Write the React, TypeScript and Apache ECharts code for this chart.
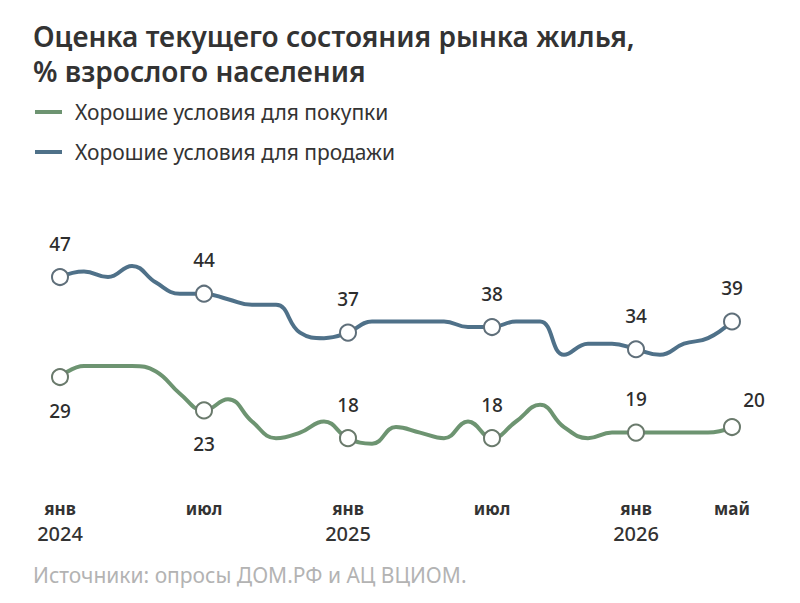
import React, { useEffect, useRef } from "react";
import * as echarts from "echarts";

// Monthly survey readings, Jan 2024 – May 2026
const months = [
  "2024-01", "2024-02", "2024-03", "2024-04", "2024-05", "2024-06",
  "2024-07", "2024-08", "2024-09", "2024-10", "2024-11", "2024-12",
  "2025-01", "2025-02", "2025-03", "2025-04", "2025-05", "2025-06",
  "2025-07", "2025-08", "2025-09", "2025-10", "2025-11", "2025-12",
  "2026-01", "2026-02", "2026-03", "2026-04", "2026-05",
];

const buyValues = [
  29, 31, 31, 31, 30, 26,
  23, 25, 21, 18, 19, 21,
  18, 17, 20, 19, 18, 21,
  18, 21, 24, 20, 18, 19,
  19, 19, 19, 19, 20,
];

const sellValues = [
  47, 48, 47, 49, 46, 44,
  44, 43, 42, 42, 37, 36,
  37, 39, 39, 39, 39, 38,
  38, 39, 39, 33, 35, 35,
  34, 33, 35, 36, 39,
];

// Axis tick labels shown under selected months
const tickLabels: Record<number, [string, string]> = {
  0: ["янв", "2024"],
  6: ["июл", ""],
  12: ["янв", "2025"],
  18: ["июл", ""],
  24: ["янв", "2026"],
  28: ["май", ""],
};

const markedIdx = [0, 6, 12, 18, 24, 28];
const buyBelowIdx = [0, 6];

const BUY_NAME = "Хорошие условия для покупки";
const SELL_NAME = "Хорошие условия для продажи";

const GREEN = "#6d9471";
const BLUE = "#4f7189";
const FONT = "'Noto Sans', sans-serif";

function buildData(values: number[], below: number[], shifted: number[]) {
  return values.map((v, i) => {
    if (!markedIdx.includes(i)) {
      return { value: v, symbol: "none" };
    }
    return {
      value: v,
      symbol: "circle",
      label: {
        show: true,
        position: below.includes(i) ? "bottom" : "top",
        distance: 15,
        offset: shifted.includes(i) ? [22, 6] : [0, 0],
      },
    };
  });
}

export default function App() {
  const ref = useRef<HTMLDivElement>(null);

  useEffect(() => {
    if (!ref.current) return;
    const chart = echarts.init(ref.current, undefined, { renderer: "svg" });

    const labelStyle = {
      color: "#2d2d2d",
      fontSize: 19,
      fontWeight: 500,
      fontFamily: FONT,
    };

    chart.setOption({
      animation: false,
      backgroundColor: "#ffffff",
      title: {
        text: "Оценка текущего состояния рынка жилья,\n% взрослого населения",
        left: 33,
        top: 18,
        padding: 0,
        textStyle: {
          color: "#333333",
          fontSize: 28,
          fontWeight: 600,
          lineHeight: 35,
          fontFamily: FONT,
        },
      },
      legend: {
        orient: "vertical",
        left: 35,
        top: 100,
        padding: 0,
        itemGap: 16,
        itemWidth: 27,
        itemHeight: 4,
        icon: "rect",
        textStyle: {
          color: "#333333",
          fontSize: 21,
          lineHeight: 24,
          fontFamily: FONT,
          padding: [0, 0, 0, 8],
        },
        data: [
          { name: BUY_NAME, itemStyle: { color: GREEN, borderWidth: 0 } },
          { name: SELL_NAME, itemStyle: { color: BLUE, borderWidth: 0 } },
        ],
      },
      graphic: [
        {
          type: "text",
          left: 33,
          top: 564,
          style: {
            text: "Источники: опросы ДОМ.РФ и АЦ ВЦИОМ.",
            fill: "#b3b3b3",
            fontSize: 21,
            fontFamily: FONT,
          },
        },
      ],
      grid: { left: 60, right: 68, top: 232.6, bottom: 120.4 },
      xAxis: {
        type: "category",
        data: months,
        boundaryGap: false,
        axisLine: { show: false },
        axisTick: { show: false },
        splitLine: { show: false },
        axisLabel: {
          interval: (idx: number) => tickLabels[idx] !== undefined,
          margin: 14,
          formatter: (_v: string, idx: number) => {
            const t = tickLabels[idx];
            if (!t) return "";
            return t[1] ? `{m|${t[0]}}\n{y|${t[1]}}` : `{m|${t[0]}}`;
          },
          rich: {
            m: { fontSize: 17, fontWeight: 700, color: "#333333", fontFamily: FONT, lineHeight: 24 },
            y: { fontSize: 20, fontWeight: 500, color: "#333333", fontFamily: FONT, lineHeight: 26 },
          },
          verticalAlign: "top",
        },
      },
      yAxis: {
        type: "value",
        min: 10,
        max: 55,
        show: false,
        splitLine: { show: false },
      },
      series: [
        {
          name: BUY_NAME,
          type: "line",
          smooth: 0.45,
          data: buildData(buyValues, buyBelowIdx, [28]),
          symbolSize: 16,
          showAllSymbol: true,
          lineStyle: { color: GREEN, width: 4 },
          itemStyle: { color: "#ffffff", borderColor: "#6a7a6c", borderWidth: 2 },
          label: labelStyle,
          z: 3,
        },
        {
          name: SELL_NAME,
          type: "line",
          smooth: 0.45,
          data: buildData(sellValues, [], []),
          symbolSize: 16,
          showAllSymbol: true,
          lineStyle: { color: BLUE, width: 4 },
          itemStyle: { color: "#ffffff", borderColor: "#5f6f7a", borderWidth: 2 },
          label: labelStyle,
          z: 3,
        },
      ],
      color: [GREEN, BLUE],
    });

    return () => chart.dispose();
  }, []);

  return <div ref={ref} style={{ width: 800, height: 603, margin: -8 }} />;
}
